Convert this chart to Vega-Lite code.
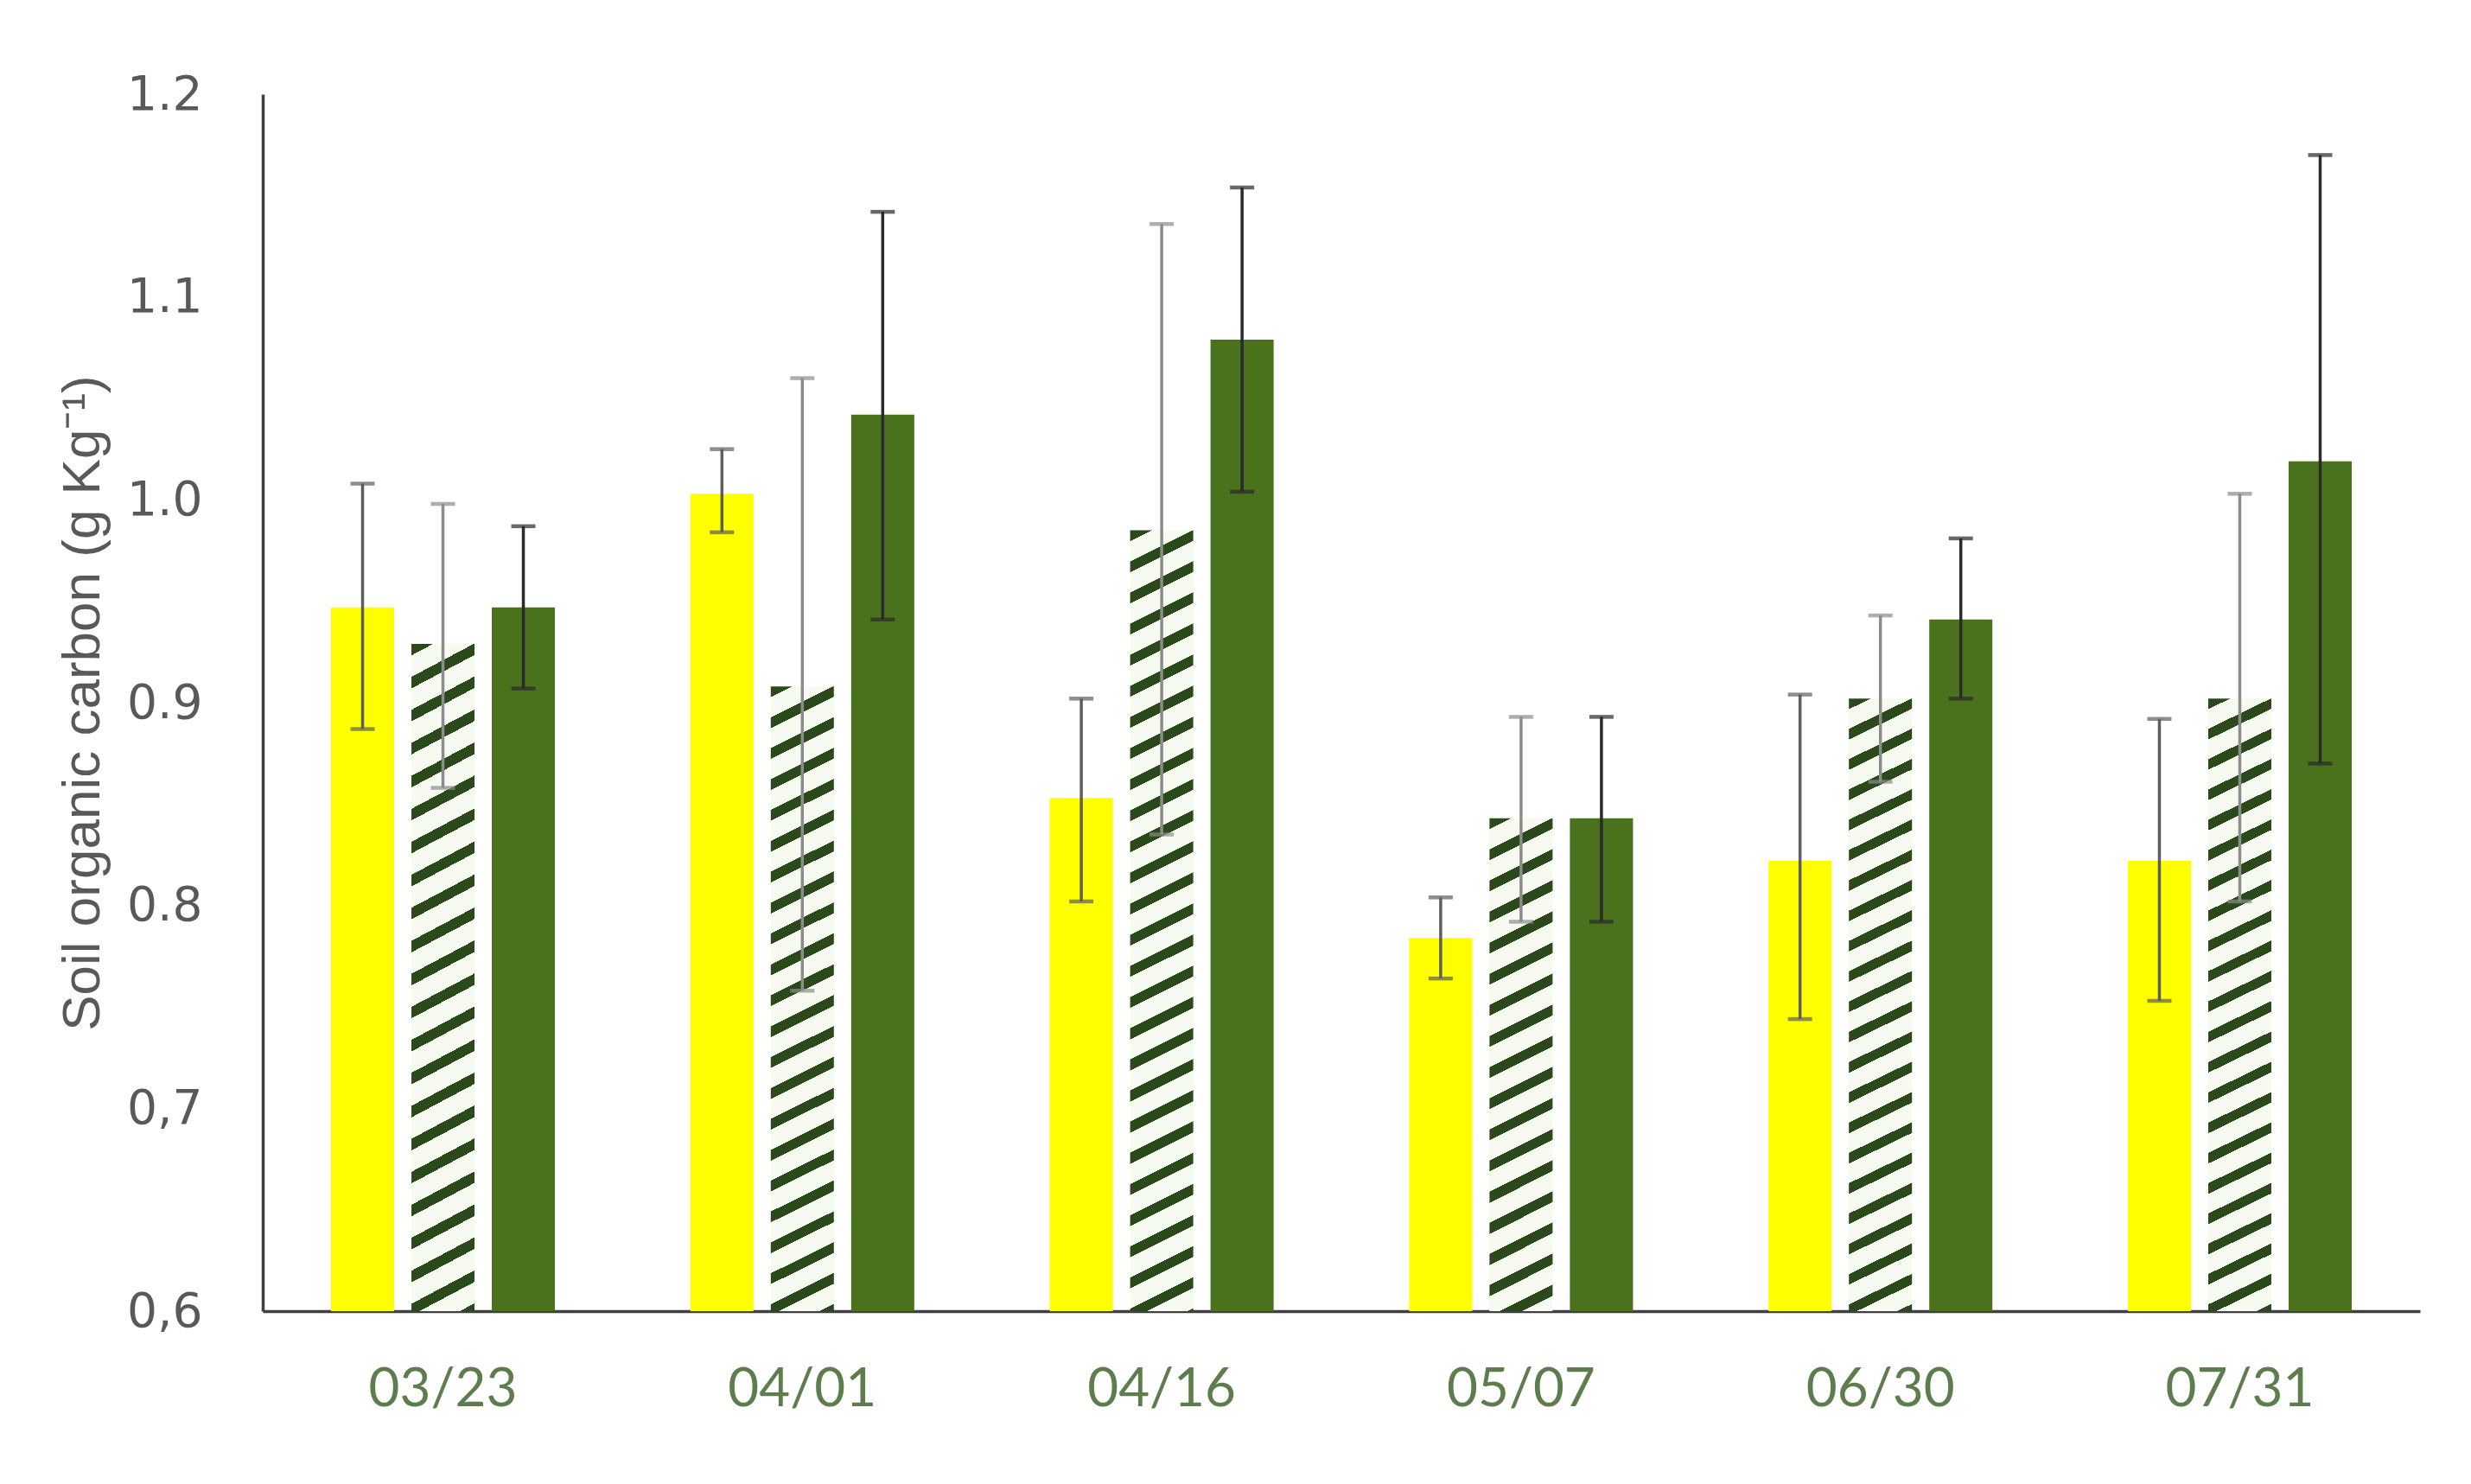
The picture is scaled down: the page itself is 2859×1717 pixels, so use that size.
{
  "$schema": "https://vega.github.io/schema/vega-lite/v6.json",
  "width": 2496,
  "height": 1408,
  "autosize": {"type": "none"},
  "padding": {"left": 304, "top": 109, "right": 59, "bottom": 200},
  "background": "white",
  "data": {"values": [
    {"date":"03/23","series":"Y","value":0.947,"lo":0.887,"hi":1.008},
    {"date":"03/23","series":"H","value":0.929,"lo":0.858,"hi":0.998},
    {"date":"03/23","series":"G","value":0.947,"lo":0.907,"hi":0.987},
    {"date":"04/01","series":"Y","value":1.003,"lo":0.984,"hi":1.025},
    {"date":"04/01","series":"H","value":0.908,"lo":0.758,"hi":1.060},
    {"date":"04/01","series":"G","value":1.042,"lo":0.941,"hi":1.142},
    {"date":"04/16","series":"Y","value":0.853,"lo":0.802,"hi":0.902},
    {"date":"04/16","series":"H","value":0.985,"lo":0.835,"hi":1.136},
    {"date":"04/16","series":"G","value":1.079,"lo":1.004,"hi":1.154},
    {"date":"05/07","series":"Y","value":0.784,"lo":0.764,"hi":0.804},
    {"date":"05/07","series":"H","value":0.843,"lo":0.792,"hi":0.893},
    {"date":"05/07","series":"G","value":0.843,"lo":0.792,"hi":0.893},
    {"date":"06/30","series":"Y","value":0.822,"lo":0.744,"hi":0.904},
    {"date":"06/30","series":"H","value":0.902,"lo":0.861,"hi":0.943},
    {"date":"06/30","series":"G","value":0.941,"lo":0.902,"hi":0.981},
    {"date":"07/31","series":"Y","value":0.822,"lo":0.753,"hi":0.892},
    {"date":"07/31","series":"H","value":0.902,"lo":0.802,"hi":1.003},
    {"date":"07/31","series":"G","value":1.019,"lo":0.870,"hi":1.170}
  ]},
  "encoding": {
    "x": {"field":"date","type":"nominal","title":null,
      "scale":{"domain":["03/23","04/01","04/16","05/07","06/30","07/31"],"paddingInner":0.377,"paddingOuter":0.19}},
    "xOffset": {"field":"series","type":"nominal",
      "scale":{"domain":["Y","H","G"],"paddingInner":0.215,"paddingOuter":0}}
  },
  "layer": [
    {
      "transform":[{"filter":{"field":"series","oneOf":["Y","G"]}}],
      "mark":{"type":"bar"},
      "encoding":{
        "y":{"field":"value","type":"quantitative",
          "scale":{"domain":[0.6,1.2],"nice":false,"zero":false},
          "axis":{"title":"Soil organic carbon (g Kg\u207b\u00b9)","values":[0.6,0.7,0.8,0.9,1.0,1.1,1.2],"format":".1f",
            "labelExpr":"datum.value < 0.75 ? replace(datum.label, '.', ',') : datum.label"}},
        "y2":{"datum":0.6},
        "fill":{"field":"series","type":"nominal","scale":{"domain":["Y","H","G"],"range":["#ffff00","#ffffff","#4a721d"]},"legend":null}
      }
    },
    {
      "transform":[{"filter":{"and":[{"field":"series","equal":"H"},{"field":"date","oneOf":["03/23","04/01","06/30","07/31"]}]}}],
      "mark":{"type":"bar","fill":{"gradient":"linear","x1":0,"y1":0,"x2":0.0544,"y2":1.0852,"stops":[
        {"offset":0,"color":"#2b4a1c"},{"offset":0.0159,"color":"#2b4a1c"},{"offset":0.0159,"color":"#f6faf1"},{"offset":0.0455,"color":"#f6faf1"},
        {"offset":0.0455,"color":"#2b4a1c"},{"offset":0.0614,"color":"#2b4a1c"},{"offset":0.0614,"color":"#f6faf1"},{"offset":0.0909,"color":"#f6faf1"},
        {"offset":0.0909,"color":"#2b4a1c"},{"offset":0.1068,"color":"#2b4a1c"},{"offset":0.1068,"color":"#f6faf1"},{"offset":0.1364,"color":"#f6faf1"},
        {"offset":0.1364,"color":"#2b4a1c"},{"offset":0.1523,"color":"#2b4a1c"},{"offset":0.1523,"color":"#f6faf1"},{"offset":0.1818,"color":"#f6faf1"},
        {"offset":0.1818,"color":"#2b4a1c"},{"offset":0.1977,"color":"#2b4a1c"},{"offset":0.1977,"color":"#f6faf1"},{"offset":0.2273,"color":"#f6faf1"},
        {"offset":0.2273,"color":"#2b4a1c"},{"offset":0.2432,"color":"#2b4a1c"},{"offset":0.2432,"color":"#f6faf1"},{"offset":0.2727,"color":"#f6faf1"},
        {"offset":0.2727,"color":"#2b4a1c"},{"offset":0.2886,"color":"#2b4a1c"},{"offset":0.2886,"color":"#f6faf1"},{"offset":0.3182,"color":"#f6faf1"},
        {"offset":0.3182,"color":"#2b4a1c"},{"offset":0.3341,"color":"#2b4a1c"},{"offset":0.3341,"color":"#f6faf1"},{"offset":0.3636,"color":"#f6faf1"},
        {"offset":0.3636,"color":"#2b4a1c"},{"offset":0.3795,"color":"#2b4a1c"},{"offset":0.3795,"color":"#f6faf1"},{"offset":0.4091,"color":"#f6faf1"},
        {"offset":0.4091,"color":"#2b4a1c"},{"offset":0.4250,"color":"#2b4a1c"},{"offset":0.4250,"color":"#f6faf1"},{"offset":0.4545,"color":"#f6faf1"},
        {"offset":0.4545,"color":"#2b4a1c"},{"offset":0.4705,"color":"#2b4a1c"},{"offset":0.4705,"color":"#f6faf1"},{"offset":0.5,"color":"#f6faf1"},
        {"offset":0.5,"color":"#2b4a1c"},{"offset":0.5159,"color":"#2b4a1c"},{"offset":0.5159,"color":"#f6faf1"},{"offset":0.5455,"color":"#f6faf1"},
        {"offset":0.5455,"color":"#2b4a1c"},{"offset":0.5614,"color":"#2b4a1c"},{"offset":0.5614,"color":"#f6faf1"},{"offset":0.5909,"color":"#f6faf1"},
        {"offset":0.5909,"color":"#2b4a1c"},{"offset":0.6068,"color":"#2b4a1c"},{"offset":0.6068,"color":"#f6faf1"},{"offset":0.6364,"color":"#f6faf1"},
        {"offset":0.6364,"color":"#2b4a1c"},{"offset":0.6523,"color":"#2b4a1c"},{"offset":0.6523,"color":"#f6faf1"},{"offset":0.6818,"color":"#f6faf1"},
        {"offset":0.6818,"color":"#2b4a1c"},{"offset":0.6977,"color":"#2b4a1c"},{"offset":0.6977,"color":"#f6faf1"},{"offset":0.7273,"color":"#f6faf1"},
        {"offset":0.7273,"color":"#2b4a1c"},{"offset":0.7432,"color":"#2b4a1c"},{"offset":0.7432,"color":"#f6faf1"},{"offset":0.7727,"color":"#f6faf1"},
        {"offset":0.7727,"color":"#2b4a1c"},{"offset":0.7886,"color":"#2b4a1c"},{"offset":0.7886,"color":"#f6faf1"},{"offset":0.8182,"color":"#f6faf1"},
        {"offset":0.8182,"color":"#2b4a1c"},{"offset":0.8341,"color":"#2b4a1c"},{"offset":0.8341,"color":"#f6faf1"},{"offset":0.8636,"color":"#f6faf1"},
        {"offset":0.8636,"color":"#2b4a1c"},{"offset":0.8795,"color":"#2b4a1c"},{"offset":0.8795,"color":"#f6faf1"},{"offset":0.9091,"color":"#f6faf1"},
        {"offset":0.9091,"color":"#2b4a1c"},{"offset":0.9250,"color":"#2b4a1c"},{"offset":0.9250,"color":"#f6faf1"},{"offset":0.9545,"color":"#f6faf1"},
        {"offset":0.9545,"color":"#2b4a1c"},{"offset":0.9705,"color":"#2b4a1c"},{"offset":0.9705,"color":"#f6faf1"},{"offset":1,"color":"#f6faf1"}
      ]}},
      "encoding":{
        "y":{"field":"value","type":"quantitative","scale":{"domain":[0.6,1.2],"nice":false,"zero":false},
          "axis":{"title":"Soil organic carbon (g Kg\u207b\u00b9)","values":[0.6,0.7,0.8,0.9,1.0,1.1,1.2],"format":".1f",
            "labelExpr":"datum.value < 0.75 ? replace(datum.label, '.', ',') : datum.label"}},
        "y2":{"datum":0.6}
      }
    },
    {
      "transform":[{"filter":{"and":[{"field":"series","equal":"H"},{"field":"date","equal":"04/16"}]}}],
      "mark":{"type":"bar","fill":{"gradient":"linear","x1":0,"y1":0,"x2":0.0434,"y2":1.0747,"stops":[
        {"offset":0,"color":"#2b4a1c"},{"offset":0.0130,"color":"#2b4a1c"},{"offset":0.0130,"color":"#f6faf1"},{"offset":0.0370,"color":"#f6faf1"},
        {"offset":0.0370,"color":"#2b4a1c"},{"offset":0.0500,"color":"#2b4a1c"},{"offset":0.0500,"color":"#f6faf1"},{"offset":0.0741,"color":"#f6faf1"},
        {"offset":0.0741,"color":"#2b4a1c"},{"offset":0.0870,"color":"#2b4a1c"},{"offset":0.0870,"color":"#f6faf1"},{"offset":0.1111,"color":"#f6faf1"},
        {"offset":0.1111,"color":"#2b4a1c"},{"offset":0.1241,"color":"#2b4a1c"},{"offset":0.1241,"color":"#f6faf1"},{"offset":0.1481,"color":"#f6faf1"},
        {"offset":0.1481,"color":"#2b4a1c"},{"offset":0.1611,"color":"#2b4a1c"},{"offset":0.1611,"color":"#f6faf1"},{"offset":0.1852,"color":"#f6faf1"},
        {"offset":0.1852,"color":"#2b4a1c"},{"offset":0.1981,"color":"#2b4a1c"},{"offset":0.1981,"color":"#f6faf1"},{"offset":0.2222,"color":"#f6faf1"},
        {"offset":0.2222,"color":"#2b4a1c"},{"offset":0.2352,"color":"#2b4a1c"},{"offset":0.2352,"color":"#f6faf1"},{"offset":0.2593,"color":"#f6faf1"},
        {"offset":0.2593,"color":"#2b4a1c"},{"offset":0.2722,"color":"#2b4a1c"},{"offset":0.2722,"color":"#f6faf1"},{"offset":0.2963,"color":"#f6faf1"},
        {"offset":0.2963,"color":"#2b4a1c"},{"offset":0.3093,"color":"#2b4a1c"},{"offset":0.3093,"color":"#f6faf1"},{"offset":0.3333,"color":"#f6faf1"},
        {"offset":0.3333,"color":"#2b4a1c"},{"offset":0.3463,"color":"#2b4a1c"},{"offset":0.3463,"color":"#f6faf1"},{"offset":0.3704,"color":"#f6faf1"},
        {"offset":0.3704,"color":"#2b4a1c"},{"offset":0.3833,"color":"#2b4a1c"},{"offset":0.3833,"color":"#f6faf1"},{"offset":0.4074,"color":"#f6faf1"},
        {"offset":0.4074,"color":"#2b4a1c"},{"offset":0.4204,"color":"#2b4a1c"},{"offset":0.4204,"color":"#f6faf1"},{"offset":0.4444,"color":"#f6faf1"},
        {"offset":0.4444,"color":"#2b4a1c"},{"offset":0.4574,"color":"#2b4a1c"},{"offset":0.4574,"color":"#f6faf1"},{"offset":0.4815,"color":"#f6faf1"},
        {"offset":0.4815,"color":"#2b4a1c"},{"offset":0.4944,"color":"#2b4a1c"},{"offset":0.4944,"color":"#f6faf1"},{"offset":0.5185,"color":"#f6faf1"},
        {"offset":0.5185,"color":"#2b4a1c"},{"offset":0.5315,"color":"#2b4a1c"},{"offset":0.5315,"color":"#f6faf1"},{"offset":0.5556,"color":"#f6faf1"},
        {"offset":0.5556,"color":"#2b4a1c"},{"offset":0.5685,"color":"#2b4a1c"},{"offset":0.5685,"color":"#f6faf1"},{"offset":0.5926,"color":"#f6faf1"},
        {"offset":0.5926,"color":"#2b4a1c"},{"offset":0.6056,"color":"#2b4a1c"},{"offset":0.6056,"color":"#f6faf1"},{"offset":0.6296,"color":"#f6faf1"},
        {"offset":0.6296,"color":"#2b4a1c"},{"offset":0.6426,"color":"#2b4a1c"},{"offset":0.6426,"color":"#f6faf1"},{"offset":0.6667,"color":"#f6faf1"},
        {"offset":0.6667,"color":"#2b4a1c"},{"offset":0.6796,"color":"#2b4a1c"},{"offset":0.6796,"color":"#f6faf1"},{"offset":0.7037,"color":"#f6faf1"},
        {"offset":0.7037,"color":"#2b4a1c"},{"offset":0.7167,"color":"#2b4a1c"},{"offset":0.7167,"color":"#f6faf1"},{"offset":0.7407,"color":"#f6faf1"},
        {"offset":0.7407,"color":"#2b4a1c"},{"offset":0.7537,"color":"#2b4a1c"},{"offset":0.7537,"color":"#f6faf1"},{"offset":0.7778,"color":"#f6faf1"},
        {"offset":0.7778,"color":"#2b4a1c"},{"offset":0.7907,"color":"#2b4a1c"},{"offset":0.7907,"color":"#f6faf1"},{"offset":0.8148,"color":"#f6faf1"},
        {"offset":0.8148,"color":"#2b4a1c"},{"offset":0.8278,"color":"#2b4a1c"},{"offset":0.8278,"color":"#f6faf1"},{"offset":0.8519,"color":"#f6faf1"},
        {"offset":0.8519,"color":"#2b4a1c"},{"offset":0.8648,"color":"#2b4a1c"},{"offset":0.8648,"color":"#f6faf1"},{"offset":0.8889,"color":"#f6faf1"},
        {"offset":0.8889,"color":"#2b4a1c"},{"offset":0.9019,"color":"#2b4a1c"},{"offset":0.9019,"color":"#f6faf1"},{"offset":0.9259,"color":"#f6faf1"},
        {"offset":0.9259,"color":"#2b4a1c"},{"offset":0.9389,"color":"#2b4a1c"},{"offset":0.9389,"color":"#f6faf1"},{"offset":0.9630,"color":"#f6faf1"},
        {"offset":0.9630,"color":"#2b4a1c"},{"offset":0.9759,"color":"#2b4a1c"},{"offset":0.9759,"color":"#f6faf1"},{"offset":1,"color":"#f6faf1"}
      ]}},
      "encoding":{
        "y":{"field":"value","type":"quantitative","scale":{"domain":[0.6,1.2],"nice":false,"zero":false},
          "axis":{"title":"Soil organic carbon (g Kg\u207b\u00b9)","values":[0.6,0.7,0.8,0.9,1.0,1.1,1.2],"format":".1f",
            "labelExpr":"datum.value < 0.75 ? replace(datum.label, '.', ',') : datum.label"}},
        "y2":{"datum":0.6}
      }
    },
    {
      "transform":[{"filter":{"and":[{"field":"series","equal":"H"},{"field":"date","equal":"05/07"}]}}],
      "mark":{"type":"bar","fill":{"gradient":"linear","x1":0,"y1":0,"x2":0.0685,"y2":1.0693,"stops":[
        {"offset":0,"color":"#2b4a1c"},{"offset":0.0206,"color":"#2b4a1c"},{"offset":0.0206,"color":"#f6faf1"},{"offset":0.0588,"color":"#f6faf1"},
        {"offset":0.0588,"color":"#2b4a1c"},{"offset":0.0794,"color":"#2b4a1c"},{"offset":0.0794,"color":"#f6faf1"},{"offset":0.1176,"color":"#f6faf1"},
        {"offset":0.1176,"color":"#2b4a1c"},{"offset":0.1382,"color":"#2b4a1c"},{"offset":0.1382,"color":"#f6faf1"},{"offset":0.1765,"color":"#f6faf1"},
        {"offset":0.1765,"color":"#2b4a1c"},{"offset":0.1971,"color":"#2b4a1c"},{"offset":0.1971,"color":"#f6faf1"},{"offset":0.2353,"color":"#f6faf1"},
        {"offset":0.2353,"color":"#2b4a1c"},{"offset":0.2559,"color":"#2b4a1c"},{"offset":0.2559,"color":"#f6faf1"},{"offset":0.2941,"color":"#f6faf1"},
        {"offset":0.2941,"color":"#2b4a1c"},{"offset":0.3147,"color":"#2b4a1c"},{"offset":0.3147,"color":"#f6faf1"},{"offset":0.3529,"color":"#f6faf1"},
        {"offset":0.3529,"color":"#2b4a1c"},{"offset":0.3735,"color":"#2b4a1c"},{"offset":0.3735,"color":"#f6faf1"},{"offset":0.4118,"color":"#f6faf1"},
        {"offset":0.4118,"color":"#2b4a1c"},{"offset":0.4324,"color":"#2b4a1c"},{"offset":0.4324,"color":"#f6faf1"},{"offset":0.4706,"color":"#f6faf1"},
        {"offset":0.4706,"color":"#2b4a1c"},{"offset":0.4912,"color":"#2b4a1c"},{"offset":0.4912,"color":"#f6faf1"},{"offset":0.5294,"color":"#f6faf1"},
        {"offset":0.5294,"color":"#2b4a1c"},{"offset":0.5500,"color":"#2b4a1c"},{"offset":0.5500,"color":"#f6faf1"},{"offset":0.5882,"color":"#f6faf1"},
        {"offset":0.5882,"color":"#2b4a1c"},{"offset":0.6088,"color":"#2b4a1c"},{"offset":0.6088,"color":"#f6faf1"},{"offset":0.6471,"color":"#f6faf1"},
        {"offset":0.6471,"color":"#2b4a1c"},{"offset":0.6676,"color":"#2b4a1c"},{"offset":0.6676,"color":"#f6faf1"},{"offset":0.7059,"color":"#f6faf1"},
        {"offset":0.7059,"color":"#2b4a1c"},{"offset":0.7265,"color":"#2b4a1c"},{"offset":0.7265,"color":"#f6faf1"},{"offset":0.7647,"color":"#f6faf1"},
        {"offset":0.7647,"color":"#2b4a1c"},{"offset":0.7853,"color":"#2b4a1c"},{"offset":0.7853,"color":"#f6faf1"},{"offset":0.8235,"color":"#f6faf1"},
        {"offset":0.8235,"color":"#2b4a1c"},{"offset":0.8441,"color":"#2b4a1c"},{"offset":0.8441,"color":"#f6faf1"},{"offset":0.8824,"color":"#f6faf1"},
        {"offset":0.8824,"color":"#2b4a1c"},{"offset":0.9029,"color":"#2b4a1c"},{"offset":0.9029,"color":"#f6faf1"},{"offset":0.9412,"color":"#f6faf1"},
        {"offset":0.9412,"color":"#2b4a1c"},{"offset":0.9618,"color":"#2b4a1c"},{"offset":0.9618,"color":"#f6faf1"},{"offset":1,"color":"#f6faf1"}
      ]}},
      "encoding":{
        "y":{"field":"value","type":"quantitative","scale":{"domain":[0.6,1.2],"nice":false,"zero":false},
          "axis":{"title":"Soil organic carbon (g Kg\u207b\u00b9)","values":[0.6,0.7,0.8,0.9,1.0,1.1,1.2],"format":".1f",
            "labelExpr":"datum.value < 0.75 ? replace(datum.label, '.', ',') : datum.label"}},
        "y2":{"datum":0.6}
      }
    },
    {
      "mark":{"type":"rule"},
      "encoding":{
        "y":{"field":"lo","type":"quantitative","scale":{"domain":[0.6,1.2],"nice":false,"zero":false},
          "axis":{"title":"Soil organic carbon (g Kg\u207b\u00b9)","values":[0.6,0.7,0.8,0.9,1.0,1.1,1.2],"format":".1f",
            "labelExpr":"datum.value < 0.75 ? replace(datum.label, '.', ',') : datum.label"}},
        "y2":{"field":"hi"},
        "stroke":{"field":"series","type":"nominal","scale":{"domain":["Y","H","G"],"range":["#5e5e5e","#8c8c8c","#2a2a2a"]},"legend":null},
        "strokeWidth":{"field":"series","type":"nominal","scale":{"domain":["Y","H","G"],"range":[3.5,3.5,5]},"legend":null}
      }
    },
    {
      "mark":{"type":"tick","size":28,"thickness":4.5},
      "encoding":{
        "y":{"field":"lo","type":"quantitative","scale":{"domain":[0.6,1.2],"nice":false,"zero":false},
          "axis":{"title":"Soil organic carbon (g Kg\u207b\u00b9)","values":[0.6,0.7,0.8,0.9,1.0,1.1,1.2],"format":".1f",
            "labelExpr":"datum.value < 0.75 ? replace(datum.label, '.', ',') : datum.label"}},
        "color":{"field":"series","type":"nominal","scale":{"domain":["Y","H","G"],"range":["#5e5e5e","#8c8c8c","#2a2a2a"]},"legend":null}
      }
    },
    {
      "mark":{"type":"tick","size":28,"thickness":4.5},
      "encoding":{
        "y":{"field":"hi","type":"quantitative","scale":{"domain":[0.6,1.2],"nice":false,"zero":false},
          "axis":{"title":"Soil organic carbon (g Kg\u207b\u00b9)","values":[0.6,0.7,0.8,0.9,1.0,1.1,1.2],"format":".1f",
            "labelExpr":"datum.value < 0.75 ? replace(datum.label, '.', ',') : datum.label"}},
        "color":{"field":"series","type":"nominal","scale":{"domain":["Y","H","G"],"range":["#5e5e5e","#8c8c8c","#2a2a2a"]},"legend":null}
      }
    }
  ],
  "config": {
    "view": {"stroke": null},
    "axisX": {"domainColor":"#404040","domainWidth":3.5,"ticks":false,"grid":false,"labelAngle":0,
      "labelFont":"Lato","labelFontSize":62,"labelColor":"#5e7d4e","labelPadding":60},
    "axisY": {"domainColor":"#404040","domainWidth":3.5,"ticks":false,"grid":false,
      "labelFont":"DejaVu Sans","labelFontSize":55,"labelColor":"#595959","labelPadding":70,
      "titleFont":"Liberation Sans","titleFontSize":62,"titleFontWeight":"normal","titleColor":"#595959","titlePadding":19}
  }
}
